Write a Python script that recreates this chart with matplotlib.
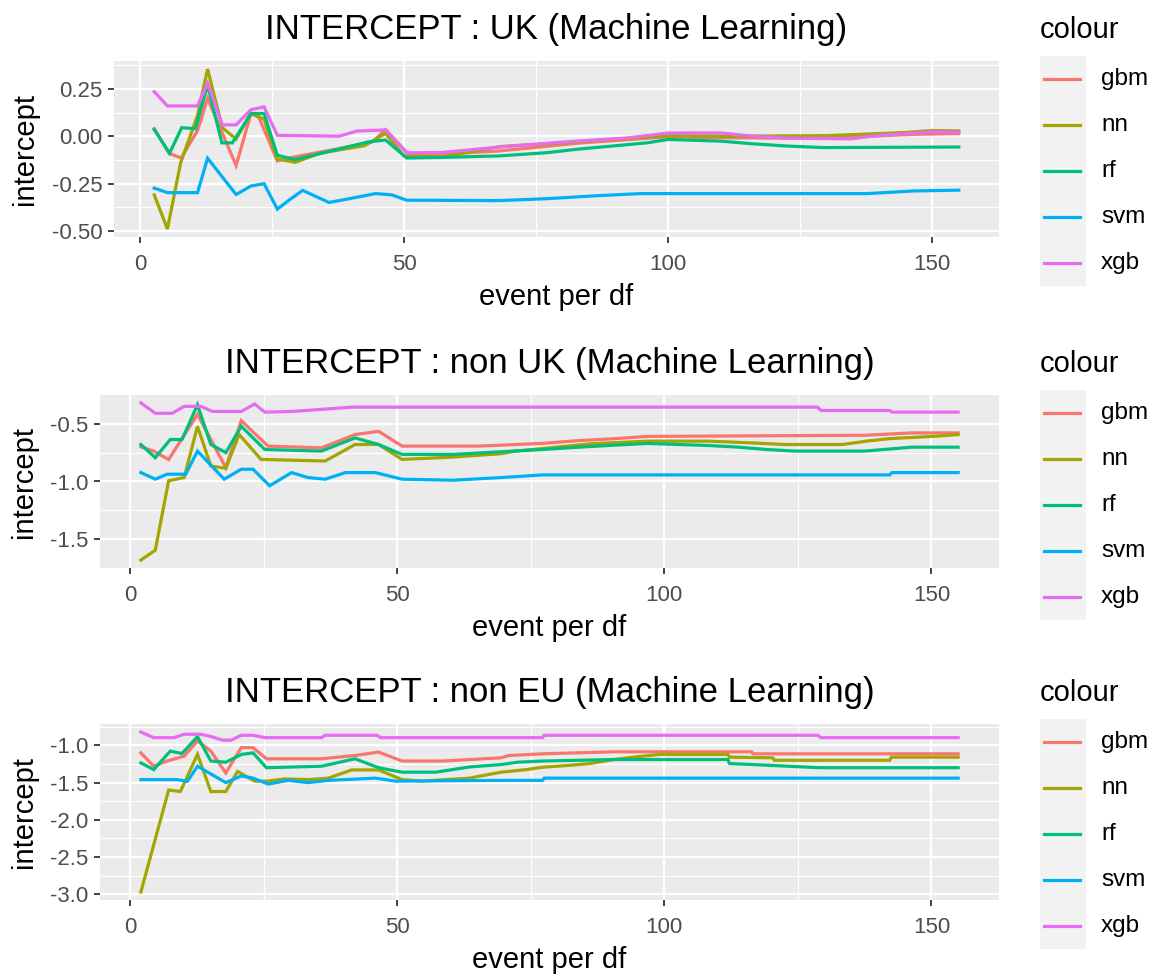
import matplotlib
matplotlib.use("Agg")
import matplotlib.pyplot as plt
from matplotlib.lines import Line2D
from matplotlib.patches import Rectangle
from matplotlib.ticker import FixedLocator, FormatStrFormatter

plt.rcParams["font.family"] = ["Liberation Sans", "DejaVu Sans"]
plt.rcParams["axes.unicode_minus"] = False

MODELS = ["gbm", "nn", "rf", "svm", "xgb"]
COLOURS = ["#F8766D", "#A3A500", "#00BF7D", "#00B0F6", "#E76BF3"]

# ---- UK ----
UK_GBM_X = [2.7, 5.5, 7.8, 10.9, 12.8, 18.2, 21, 22.5, 26, 28.2, 31, 35.8, 41.5, 44, 46.5, 51, 57, 68, 82.8, 100, 110, 122, 134, 146.5, 155]
UK_GBM_Y = [0.04, -0.09, -0.115, 0.03, 0.2, -0.155, 0.12, 0.1, -0.13, -0.115, -0.1, -0.075, -0.045, -0.03, 0.035, -0.1, -0.095, -0.078, -0.037, -0.003, -0.008, -0.01, -0.005, 0.01, 0.014]
UK_NN_X = [2.7, 5.2, 7.7, 10.9, 12.8, 15.6, 18.2, 21, 23.5, 26, 29.4, 34, 42.5, 46.5, 50, 57, 68, 80, 90, 100, 110, 130, 138, 145, 150, 155]
UK_NN_Y = [-0.31, -0.49, -0.14, 0.11, 0.355, 0.045, -0.015, 0.12, 0.09, -0.12, -0.138, -0.09, -0.05, 0.015, -0.105, -0.11, -0.055, -0.035, -0.015, 0.003, 0.0, 0.003, 0.012, 0.02, 0.03, 0.028]
UK_RF_X = [2.7, 5.6, 7.9, 10.5, 12.8, 15.5, 17.5, 21, 23.5, 26, 29.3, 36.3, 43.2, 46.5, 50.5, 57, 68, 77, 83, 96, 100, 110, 116, 122.5, 129.5, 155]
UK_RF_Y = [0.035, -0.09, 0.045, 0.04, 0.27, -0.035, -0.035, 0.12, 0.12, -0.1, -0.124, -0.077, -0.03, -0.02, -0.115, -0.112, -0.104, -0.087, -0.068, -0.035, -0.017, -0.026, -0.04, -0.052, -0.06, -0.057]
UK_SVM_X = [2.7, 5.2, 10.9, 12.8, 18.2, 21, 23.5, 26, 28.2, 30.8, 35.8, 39.6, 44.6, 47.7, 50.5, 68, 77, 86, 94.8, 137.7, 146.5, 155]
UK_SVM_Y = [-0.274, -0.298, -0.298, -0.116, -0.308, -0.263, -0.251, -0.385, -0.338, -0.286, -0.35, -0.33, -0.303, -0.31, -0.338, -0.34, -0.33, -0.315, -0.303, -0.303, -0.289, -0.285]
UK_XGB_X = [2.7, 5.2, 10.9, 12.8, 15.6, 18.2, 21, 23.5, 26, 37.7, 41, 46.5, 50.5, 57, 64, 71, 83, 92, 100, 110, 116, 122.5, 134.5, 139.6, 150.3, 155]
UK_XGB_Y = [0.235, 0.16, 0.16, 0.28, 0.06, 0.06, 0.14, 0.155, 0.005, 0.0, 0.027, 0.033, -0.088, -0.086, -0.068, -0.05, -0.025, -0.01, 0.017, 0.017, 0.0, -0.01, -0.014, 0.003, 0.024, 0.02]

# ---- non UK ----
NUK_GBM_X = [2.0, 4.4, 7.2, 12.6, 17.9, 20.8, 25.8, 35.8, 42.1, 46.5, 50.9, 64.8, 69.4, 77.2, 84.1, 90.6, 96.9, 137.8, 146.3, 155]
NUK_GBM_Y = [-0.70, -0.737, -0.81, -0.42, -0.88, -0.474, -0.694, -0.709, -0.594, -0.566, -0.694, -0.694, -0.686, -0.67, -0.646, -0.63, -0.61, -0.60, -0.58, -0.58]
NUK_NN_X = [2.0, 4.7, 7.2, 10.1, 12.6, 15.1, 17.9, 20.4, 24.5, 36.5, 42.1, 46.5, 50.9, 60, 69.4, 72.2, 81.9, 86.3, 96.9, 108.1, 116.3, 122.5, 133.4, 137.8, 142.2, 150.6, 155]
NUK_NN_Y = [-1.68, -1.594, -0.994, -0.966, -0.523, -0.866, -0.886, -0.594, -0.809, -0.823, -0.68, -0.68, -0.809, -0.79, -0.76, -0.737, -0.694, -0.674, -0.651, -0.651, -0.666, -0.68, -0.68, -0.651, -0.629, -0.609, -0.594]
NUK_RF_X = [2.0, 4.7, 7.5, 9.7, 12.6, 15.1, 17.9, 20.8, 25.2, 35.8, 42.1, 46.5, 50.9, 60.4, 69.4, 77.2, 84.1, 90.6, 96.9, 108.4, 113.8, 119.1, 124.4, 137.5, 146.3, 155]
NUK_RF_Y = [-0.68, -0.794, -0.637, -0.637, -0.337, -0.68, -0.75, -0.523, -0.723, -0.737, -0.623, -0.68, -0.766, -0.766, -0.743, -0.723, -0.703, -0.686, -0.671, -0.689, -0.703, -0.723, -0.737, -0.737, -0.703, -0.703]
NUK_SVM_X = [2.0, 4.7, 6.9, 10.4, 12.6, 17.6, 20.8, 23, 26.1, 30.2, 33.3, 36.5, 40.3, 45.9, 50.9, 60.4, 69.4, 77.2, 142.2, 142.6, 155]
NUK_SVM_Y = [-0.923, -0.98, -0.937, -0.937, -0.737, -0.98, -0.894, -0.894, -1.037, -0.923, -0.966, -0.98, -0.923, -0.923, -0.98, -0.989, -0.966, -0.943, -0.943, -0.923, -0.923]
NUK_XGB_X = [2.0, 4.7, 7.9, 10.1, 13.2, 15.4, 20.8, 23.3, 25.2, 30.5, 41.5, 128.7, 129.3, 142.2, 142.6, 155]
NUK_XGB_Y = [-0.32, -0.41, -0.41, -0.35, -0.35, -0.394, -0.394, -0.33, -0.40, -0.394, -0.357, -0.357, -0.386, -0.386, -0.40, -0.40]

# ---- non EU ----
NEU_GBM_X = [2.0, 4.4, 6.9, 10.1, 12.6, 15.1, 17.9, 20.8, 23, 25.5, 35.8, 42.1, 46.5, 50.9, 58.5, 69.4, 70.9, 77.2, 90.6, 116.3, 116.6, 155]
NEU_GBM_Y = [-1.10, -1.28, -1.21, -1.145, -0.94, -1.077, -1.37, -1.03, -1.03, -1.18, -1.18, -1.136, -1.09, -1.21, -1.21, -1.167, -1.136, -1.113, -1.086, -1.086, -1.113, -1.113]
NEU_NN_X = [2.0, 7.2, 9.4, 12.6, 15.1, 17.9, 20.1, 23.3, 25.8, 28.9, 33.3, 37.1, 41.5, 46.5, 50.9, 54.7, 63.5, 69.4, 74.1, 77.2, 81.9, 86, 90.6, 94.7, 99.1, 111.9, 112.2, 120.3, 120.6, 142.2, 142.5, 155]
NEU_NN_Y = [-2.97, -1.6, -1.62, -1.12, -1.62, -1.62, -1.35, -1.48, -1.48, -1.45, -1.46, -1.44, -1.33, -1.33, -1.46, -1.48, -1.44, -1.36, -1.326, -1.294, -1.27, -1.244, -1.19, -1.154, -1.122, -1.122, -1.158, -1.167, -1.2, -1.2, -1.158, -1.158]
NEU_RF_X = [2.0, 4.4, 7.5, 9.7, 12.6, 15.1, 17.9, 20.8, 23, 25.5, 35.8, 42.1, 46.5, 50.9, 57.2, 63.5, 69.4, 72.5, 77.2, 90.6, 111.9, 112.2, 120.3, 129.1, 155]
NEU_RF_Y = [-1.235, -1.326, -1.077, -1.109, -0.882, -1.21, -1.226, -1.122, -1.10, -1.30, -1.28, -1.18, -1.30, -1.36, -1.36, -1.29, -1.258, -1.226, -1.21, -1.19, -1.19, -1.244, -1.27, -1.30, -1.30]
NEU_SVM_X = [2.0, 8.8, 10.7, 12.6, 17.9, 20.8, 23, 25.8, 29.6, 33.3, 37.1, 45.9, 49.7, 69.4, 77.2, 77.5, 155]
NEU_SVM_Y = [-1.46, -1.46, -1.484, -1.28, -1.50, -1.41, -1.44, -1.52, -1.47, -1.50, -1.47, -1.44, -1.48, -1.47, -1.47, -1.44, -1.44]
NEU_XGB_X = [2.0, 4.4, 8.2, 10.1, 13.2, 15.1, 17.3, 18.9, 20.8, 23, 25.2, 35.8, 36.5, 46.2, 46.9, 77.2, 77.5, 128.7, 129.3, 155]
NEU_XGB_Y = [-0.82, -0.896, -0.896, -0.85, -0.85, -0.88, -0.93, -0.93, -0.864, -0.864, -0.896, -0.896, -0.864, -0.864, -0.896, -0.896, -0.864, -0.864, -0.896, -0.896]

TITLES = ["INTERCEPT : UK (Machine Learning)",
          "INTERCEPT : non UK (Machine Learning)",
          "INTERCEPT : non EU (Machine Learning)"]
X_TICKS = [0, 50, 100, 150]
Y_TICKS = [[-0.50, -0.25, 0.00, 0.25],
           [-1.5, -1.0, -0.5],
           [-3.0, -2.5, -2.0, -1.5, -1.0]]
Y_FMT = ["%.2f", "%.1f", "%.1f"]

SERIES = [
    [(UK_GBM_X, UK_GBM_Y), (UK_NN_X, UK_NN_Y), (UK_RF_X, UK_RF_Y), (UK_SVM_X, UK_SVM_Y), (UK_XGB_X, UK_XGB_Y)],
    [(NUK_GBM_X, NUK_GBM_Y), (NUK_NN_X, NUK_NN_Y), (NUK_RF_X, NUK_RF_Y), (NUK_SVM_X, NUK_SVM_Y), (NUK_XGB_X, NUK_XGB_Y)],
    [(NEU_GBM_X, NEU_GBM_Y), (NEU_NN_X, NEU_NN_Y), (NEU_RF_X, NEU_RF_Y), (NEU_SVM_X, NEU_SVM_Y), (NEU_XGB_X, NEU_XGB_Y)],
]

W, H = 1157, 980
# panel boxes in pixels: left, right, top, bottom
BOXES = [(114, 999, 61, 237), (100, 999, 395, 568), (100, 999, 724, 900)]


def fx(px):
    return px / W


def fy(py):
    return 1 - py / H


def expand(lo, hi, frac=0.05):
    pad = (hi - lo) * frac
    return lo - pad, hi + pad


def half_steps(ticks):
    step = ticks[1] - ticks[0]
    return [t + step / 2 for t in [ticks[0] - step] + ticks]


fig = plt.figure(figsize=(W / 100, H / 100), dpi=100)
fig.patch.set_facecolor("white")

for i, (series, box) in enumerate(zip(SERIES, BOXES)):
    left, right, top, bottom = box
    ax = fig.add_axes([fx(left), fy(bottom), fx(right - left), (bottom - top) / H])
    ax.set_facecolor("#EBEBEB")
    for (xs, ys), c in zip(series, COLOURS):
        ax.plot(xs, ys, color=c, lw=2.3, solid_joinstyle="miter", zorder=3)

    all_x = [v for xs, _ in series for v in xs]
    all_y = [v for _, ys in series for v in ys]
    ax.set_xlim(*expand(min(all_x), max(all_x)))
    ax.set_ylim(*expand(min(all_y), max(all_y)))

    ax.xaxis.set_major_locator(FixedLocator(X_TICKS))
    ax.xaxis.set_minor_locator(FixedLocator([25, 75, 125, 175]))
    ax.yaxis.set_major_locator(FixedLocator(Y_TICKS[i]))
    ax.yaxis.set_minor_locator(FixedLocator(half_steps(Y_TICKS[i])))
    ax.yaxis.set_major_formatter(FormatStrFormatter(Y_FMT[i]))

    ax.grid(True, which="major", color="white", lw=1.6, zorder=1)
    ax.grid(True, which="minor", color="white", lw=0.8, zorder=1)
    ax.set_axisbelow(True)
    for s in ax.spines.values():
        s.set_visible(False)
    ax.tick_params(which="major", length=4.2, width=1.3, color="#333333",
                   labelsize=16, labelcolor="#4D4D4D")
    ax.tick_params(axis="x", which="major", pad=8)
    ax.tick_params(axis="y", which="major", pad=4)
    ax.tick_params(which="minor", length=0)

    ax.set_xlabel("event per df", fontsize=21, labelpad=6)
    ax.set_ylabel("intercept", fontsize=21, labelpad=9)
    fig.text(fx((left + right) / 2), fy(top - 22), TITLES[i], fontsize=25,
             ha="center", va="baseline")

    # legend
    fig.text(fx(1040), fy(top - 31), "colour", fontsize=21, ha="left", va="center")
    fig.add_artist(Rectangle((fx(1040), fy(top + 225)), fx(46), 230 / H,
                             transform=fig.transFigure, facecolor="#F2F2F2",
                             edgecolor="none"))
    for k, (name, c) in enumerate(zip(MODELS, COLOURS)):
        yk = top - 5 + 46 * (k + 0.5)
        fig.add_artist(Line2D([fx(1044), fx(1080)], [fy(yk), fy(yk)],
                              transform=fig.transFigure, color=c, lw=2.3))
        fig.text(fx(1101), fy(yk), name, fontsize=17.5, ha="left", va="center")

fig.savefig("out.png", dpi=100)
